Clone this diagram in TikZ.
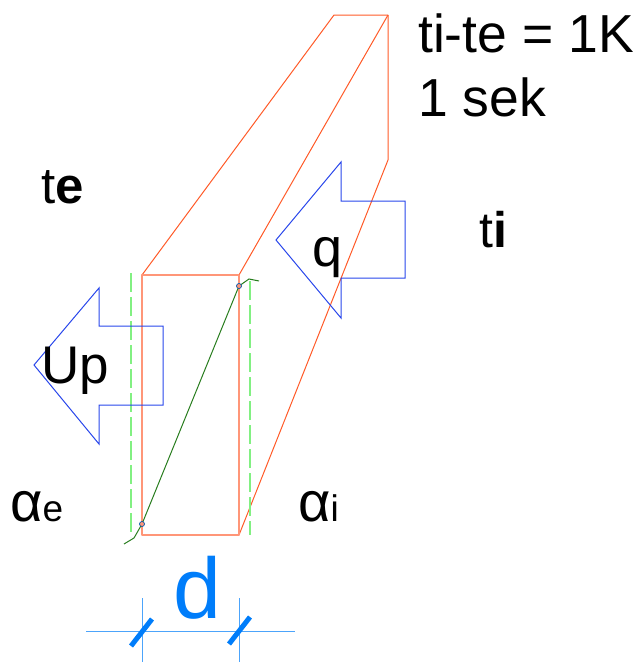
\documentclass[tikz,border=0pt]{standalone}
\usepackage{fontspec}
\setmainfont{Liberation Sans}
\usetikzlibrary{calc}
\definecolor{wallred}{RGB}{255,90,40}
\definecolor{wallface}{RGB}{255,150,120}
\definecolor{flowblue}{RGB}{40,70,235}
\definecolor{dimblue}{RGB}{0,125,250}
\definecolor{filmgreen}{RGB}{130,240,130}
\definecolor{tempgreen}{RGB}{40,125,30}

\begin{document}
\begin{tikzpicture}[x=1pt, y=-1pt]

\tikzset{
  wall/.style={draw=wallred, line width=1pt, line join=round},
  face/.style={draw=wallface, line width=1.8pt, line join=round},
  flow/.style={draw=flowblue, line width=1pt, line join=miter},
  film/.style={draw=filmgreen, line width=1.5pt, dash pattern=on 19pt off 5pt},
  temp/.style={draw=tempgreen, line width=1pt},
  dot/.style={circle, draw=dimblue!70!black, fill=wallface, line width=0.7pt,
    minimum size=5pt, inner sep=0pt},
  dimline/.style={draw=dimblue!70, line width=1pt},
  tick/.style={draw=dimblue, line width=5pt},
  lab/.style={inner sep=0pt, anchor=base west, text=black}
}

\useasboundingbox (0,0) rectangle (637,662);

% ---- WALL ----
\coordinate (fa) at (142,275);
\coordinate (fb) at (239,275);
\coordinate (fc) at (239,535);
\coordinate (fd) at (142,535);
\coordinate (ba) at (334,15);
\coordinate (bb) at (388,15);
\coordinate (bc) at (388,160);

\draw[wall] (fa) -- (ba) -- (bb) -- (bc) -- (fc);
\draw[wall] (fb) -- (bb);
\draw[face] (fa) -- (fb) -- (fc) -- (fd) -- cycle;

% ---- SURFACE FILMS ----
\draw[film] (131,273) -- (131,537);
\draw[film] (250,281) -- (250,535);

% ---- TEMPERATURE LINE ----
\coordinate (tempa) at (124,544);
\coordinate (tempb) at (134,538);
\coordinate (tempc) at (249,279);
\coordinate (tempd) at (259,281);
\draw[temp] (tempa) -- (tempb) -- (142,524) -- (239,286) -- (tempc) -- (tempd);
\node (dotlow)  [dot] at (142,524) {};
\node (dothigh) [dot] at (239,286) {};

% ---- FLOW ARROWS ----
\draw[flow] (34,365) -- (99,288) -- (99,326) -- (163,326) -- (163,405)
  -- (99,405) -- (99,444) -- cycle;
\draw[flow] (276,240) -- (341,162) -- (341,201) -- (405,201) -- (405,278)
  -- (341,278) -- (341,318) -- cycle;

% ---- DIMENSION ----
\coordinate (dimw) at (86,631);
\coordinate (dime) at (295,631);
\draw[dimline] (dimw) -- (dime);
\draw[dimline] (142,598) -- (142,662);
\draw[dimline] (239,598) -- (239,662);
\draw[tick] (131,646) -- (152,619);
\draw[tick] (229,644) -- (250,617);

% ---- LABELS ----
\node (delta) [lab, font=\fontsize{53.5pt}{50pt}\selectfont] at (418,52) {ti-te = 1K};
\node (sek)   [lab, font=\fontsize{53.5pt}{50pt}\selectfont] at (418,116) {1 sek};
\node (te)    [lab, font=\fontsize{51pt}{42pt}\selectfont] at (41,203) {t\textbf{e}};
\node (ti)    [lab, font=\fontsize{50pt}{42pt}\selectfont] at (479,247) {t\textbf{i}};
\node (q)     [lab, font=\fontsize{54pt}{50pt}\selectfont] at (312,266) {q};
\node (up)    [lab, font=\fontsize{53pt}{50pt}\selectfont] at (41,383) {Up};
\node (ae)    [lab, font=\fontsize{56pt}{50pt}\selectfont] at (10,521)
  {α\fontsize{37pt}{36pt}\selectfont e};
\node (ai)    [lab, font=\fontsize{56pt}{50pt}\selectfont] at (298,521)
  {α\fontsize{37pt}{36pt}\selectfont i};
\node (d)     [lab, font=\fontsize{86pt}{88pt}\selectfont, text=dimblue] at (173,618) {d};

\end{tikzpicture}
\end{document}
